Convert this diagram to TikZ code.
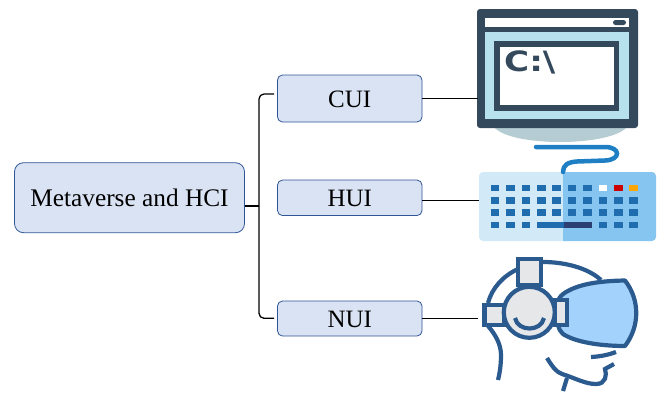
\documentclass[tikz,border=0pt]{standalone}
\usepackage{fontspec}
\setmainfont{Liberation Serif}
\newfontfamily\iconfont{DejaVu Sans}
\definecolor{boxfill}{HTML}{DAE3F3}
\definecolor{boxline}{HTML}{2F5597}
\definecolor{screendark}{HTML}{34495C}
\definecolor{screenlight}{HTML}{B7E1EC}
\definecolor{screenshade}{HTML}{B5CDD2}
\definecolor{keyleft}{HTML}{D2EAF8}
\definecolor{keyright}{HTML}{85C5F0}
\definecolor{keyblue}{HTML}{1F6DAE}
\definecolor{keynavy}{HTML}{2B3F73}
\definecolor{keycable}{HTML}{1F7FC4}
\definecolor{vrline}{HTML}{2B5A8F}
\definecolor{vrgrey}{HTML}{E6E7E9}
\definecolor{vrblue}{HTML}{A3D2FC}
\begin{document}
\begin{tikzpicture}[x=1pt, y=-1pt, node distance=100pt,
	main/.style = {draw=boxline, fill=boxfill, line width=0.8pt, rounded corners=9pt, inner sep=0pt, align=center, minimum width=230pt, minimum height=70pt, text height=18pt, font=\fontsize{25.3}{28}\selectfont},
	sub/.style = {draw=boxline, fill=boxfill, line width=0.8pt, rounded corners=5pt, inner sep=0pt, align=center, minimum width=144.5pt, text height=18.5pt, font=\fontsize{25}{28}\selectfont},
	link/.style = {draw=black, line width=1.3pt},
	vr/.style = {draw=vrline, line width=4.2pt}]
	\useasboundingbox (0,0) rectangle (657,392);

	%% Nodes
	\node[main] (meta) at (129.5,197.7) {Metaverse and HCI};
	\node[sub, minimum height=47pt] (cui) at (349.75,98.5) {CUI};
	\node[sub, minimum height=35.5pt][below of=cui, node distance=99.3pt] (hui) {HUI};
	\node[sub, minimum height=35pt][below of=hui, node distance=120.7pt] (nui) {NUI};

	\coordinate (hub) at (259,206);
	\coordinate (cuilink) at (274,94);
	\coordinate (nuilink) at (274,318.3);
	\coordinate (cuiicon) at (478,98.7);
	\coordinate (huiicon) at (479,200.7);
	\coordinate (nuiicon) at (478,318.5);

	%% Monitor
	\fill[screenshade] (494,127) .. controls (510,147) and (610,147) .. (627,127) -- cycle;
	\fill[screendark, rounded corners=3pt] (477,9) rectangle (638,128);
	\fill[white] (485,18) rectangle (629,27);
	\fill[screendark, rounded corners=2.5pt] (613,20) rectangle (626,25);
	\fill[screenlight] (485,32) rectangle (629,119);
	\fill[screendark] (494,41) rectangle (619,111);
	\fill[white] (500,47) rectangle (614,105);
	\node[text=screendark, inner sep=0pt, anchor=west, font=\iconfont\bfseries\fontsize{28}{30}\selectfont] (prompt) at (504,62.5) {\scalebox{1.22}[1]{C:\textbackslash}};

	%% Keyboard
	\fill[keyleft, rounded corners=4pt] (479,172) rectangle (570,241);
	\fill[keyright, rounded corners=4pt] (560,172) rectangle (656,241);
	\fill[keyright] (563,172) rectangle (570,241);
	\fill[keyleft] (560,172) rectangle (563,241);
	\foreach \row in {187.7,200.3,212.3,224.7}
		\foreach \col in {0,...,9}
			\fill[keyblue] ({490.7+15.4*\col},\row-3.2) rectangle +(8.6,6.4);
	\fill[white] (598.5,184.5) rectangle +(8.6,6.4);
	\fill[red!80!black] (613.9,184.5) rectangle +(8.6,6.4);
	\fill[orange!70!yellow] (629.3,184.5) rectangle +(8.6,6.4);
	\fill[keyright] (537,221) rectangle (595,228.5);
	\fill[keyleft] (535,221) rectangle (563,228.5);
	\fill[keyblue] (537,221.5) rectangle (564,227.9);
	\fill[keynavy] (564,221.5) rectangle (591.5,227.9);
	\draw[keycable, line width=4.5pt, line cap=round] (563,172) .. controls (563,165) and (568,162) .. (577,161.5) -- (605,160.5) .. controls (621,160) and (621,147) .. (605,147) -- (536,147);

	%% Headset
	\draw[vr, fill=vrblue, line join=round] (557,311) .. controls (556,302) and (558,297) .. (566,292) .. controls (578,285) and (595,281) .. (625,280.5) .. controls (640,300) and (640,326) .. (625,346) .. controls (600,346) and (575,342) .. (563,334) .. controls (558,330) and (557,322) .. (557,311) -- cycle;
	\draw[vr] (543,262) .. controls (565,262) and (588,268) .. (601,280);
	\draw[vr] (518,269) .. controls (503,276) and (492,288) .. (488,303);
	\draw[vr] (488,326) .. controls (496,335) and (501,345) .. (501,355) .. controls (501,364) and (500,372) .. (498,380);
	\draw[vr, fill=vrgrey] (518,259) rectangle (541,285);
	\draw[vr, fill=vrgrey] (484.5,305) rectangle (504,325);
	\draw[vr, fill=vrgrey] (555,300) rectangle (567,325);
	\draw[vr, fill=vrgrey] (529.3,312.3) circle[radius=25.5];
	\draw[vr, line cap=butt] (515,318) .. controls (518,332) and (541,332) .. (544,318);
	\draw[vr] (591,357) .. controls (600,356.5) and (608,355) .. (616,352);
	\draw[vr] (547,358) .. controls (552,366) and (556,372) .. (562,374) .. controls (575,378) and (585,384) .. (596,384) .. controls (606,384) and (607,375) .. (605,369) -- (614,364);
	\draw[vr] (567,378) -- (563,391);

	%% Edges
	\draw[link] (hub -| meta.east) -- (hub);
	\draw[link, rounded corners=5pt] (hub) |- (cuilink);
	\draw[link, rounded corners=5pt] (hub) |- (nuilink);
	\draw[link] (cui.east |- cuiicon) -- (cuiicon);
	\draw[link] (hui.east |- huiicon) -- (huiicon);
	\draw[link] (nui.east |- nuiicon) -- (nuiicon);
\end{tikzpicture}
\end{document}
